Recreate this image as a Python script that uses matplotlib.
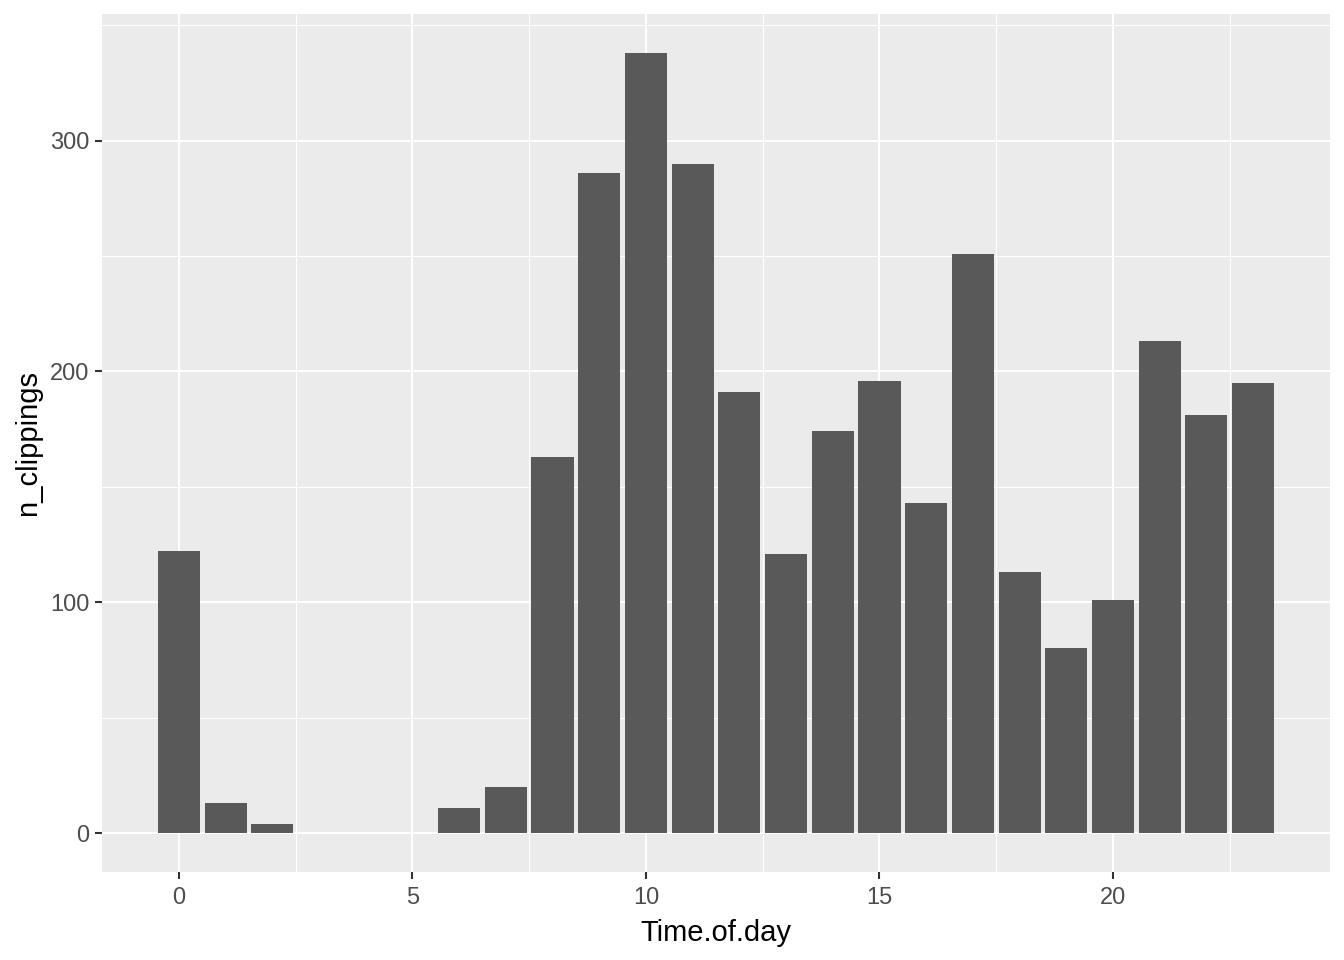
import matplotlib
matplotlib.use("Agg")
import matplotlib.pyplot as plt
from matplotlib.ticker import MultipleLocator

plt.rcParams['font.family'] = ['Liberation Sans', 'DejaVu Sans']

# hours with clippings (3, 4, 5 have none)
hours = [0, 1, 2, 6, 7, 8, 9, 10, 11, 12, 13, 14, 15, 16, 17, 18, 19, 20, 21, 22, 23]
n_clippings = [122, 13, 4, 11, 20, 163, 286, 338, 290, 191, 121, 174, 196, 143, 251,
               113, 80, 101, 213, 181, 195]

fig = plt.figure(figsize=(13.44, 9.6), dpi=100)
ax = fig.add_axes([102 / 1344, 1 - 872 / 960, (1330 - 102) / 1344, (872 - 14) / 960])

ax.set_facecolor('#EBEBEB')
ax.bar(hours, n_clippings, width=0.9, color='#595959', zorder=2)

ax.set_xlim(-1.645, 24.645)
ax.set_ylim(-16.9, 354.9)
ax.xaxis.set_major_locator(MultipleLocator(5))
ax.xaxis.set_minor_locator(MultipleLocator(2.5))
ax.yaxis.set_major_locator(MultipleLocator(100))
ax.yaxis.set_minor_locator(MultipleLocator(50))

ax.grid(which='major', color='white', linewidth=1.5, zorder=0)
ax.grid(which='minor', color='white', linewidth=0.75, zorder=0)
ax.set_axisbelow(True)
for s in ax.spines.values():
    s.set_visible(False)

ax.tick_params(which='major', length=5, width=1.5, color='#333333',
               labelcolor='#4D4D4D', labelsize=17, pad=4)
ax.tick_params(axis='x', which='major', pad=6)
ax.tick_params(which='minor', length=0)

ax.set_xlabel('Time.of.day', fontsize=21, color='black', labelpad=7)
ax.set_ylabel('n_clippings', fontsize=21, color='black', labelpad=6)

fig.savefig('out.png', dpi=100)
